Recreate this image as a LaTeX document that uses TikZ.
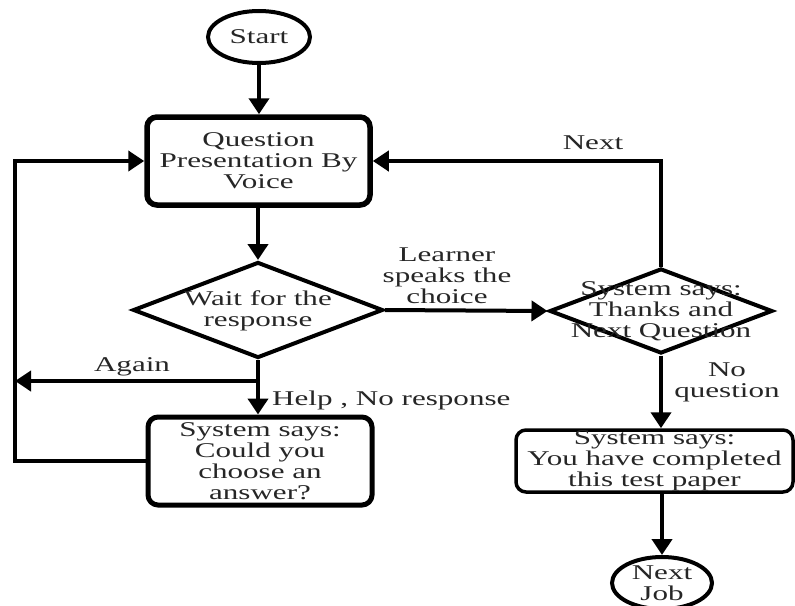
\documentclass[tikz,border=0pt]{standalone}
\usepackage{fontspec}
\setmainfont{Liberation Serif}[FakeStretch=1.48]
\usetikzlibrary{arrows.meta,shapes.geometric}

\begin{document}
\begin{tikzpicture}[x=1pt,y=-1pt,
  every node/.style={font=\fontsize{21pt}{21pt}\selectfont, text=black!85, align=center},
  conn/.style={line width=4pt, -{Triangle[length=16pt,width=20pt]}},
  terminal/.style={ellipse, draw, line width=4pt, inner sep=0pt},
  procbox/.style={rectangle, rounded corners=10pt, draw, inner sep=0pt},
  decision/.style={diamond, draw, line width=4pt, inner sep=0pt},
  lbl/.style={inner sep=0pt}
]
\useasboundingbox (0,0) rectangle (795,605);

% terminals
\node[terminal, minimum width=102pt, minimum height=52pt] (start) at (259,37) {Start};
\node[terminal, minimum width=100pt, minimum height=52pt] (job) at (662,583) {Next\\Job};

% process boxes
\node[procbox, line width=5.5pt, minimum width=223pt, minimum height=88pt] (present) at (258.5,161)
  {Question\\Presentation By\\Voice};
\node[procbox, line width=5pt, minimum width=224pt, minimum height=88pt] (helpbox) at (260,461)
  {System says:\\Could you\\choose an\\answer?};
\node[procbox, line width=3.5pt, minimum width=277pt, minimum height=62pt] (donebox) at (654.5,461)
  {System says:\\You have completed\\this test paper};

% decisions (outline and text kept apart so the text may run past the edges)
\node[decision, minimum width=250pt, minimum height=96pt] (wait) at (258,310) {};
\node[lbl] (waittext) at (258,310.5) {Wait for the\\response};
\node[decision, minimum width=223pt, minimum height=85pt] (thanks) at (661,311) {};
\node[lbl] (thankstext) at (thanks.center) {System says:\\Thanks and\\Next Question};

% branch points on the left rail
\coordinate (split) at (258,381);
\coordinate (railmid) at (15,381);
\coordinate (railtop) at (15,161);

% connectors
\draw[conn] (start) -- (present.north -| start);
\draw[conn] (present.south -| wait.north) -- (wait.north);
\draw[conn] (wait.south) -- (helpbox.north -| wait.south);
\draw[conn] (wait.east) -- (thanks.west);
\draw[conn] (split) -- (railmid);
\draw[conn] (helpbox.west) -| (railtop) -- (present.west);
\draw[conn] (thanks.north) |- (present.east);
\draw[conn] (thanks.south) -- (thanks.south |- donebox.north);
\draw[conn] (job.north |- donebox.south) -- (job.north);

% connector labels
\node[lbl] (lnext) at (593,143) {Next};
\node[lbl] (llearner) at (447,276) {Learner\\speaks the\\choice};
\node[lbl] (lagain) at (132,367) {Again};
\node[lbl, anchor=west] (lhelp) at (272,400) {Help , No response};
\node[lbl] (lnoq) at (727,382) {No\\question};
\end{tikzpicture}
\end{document}
